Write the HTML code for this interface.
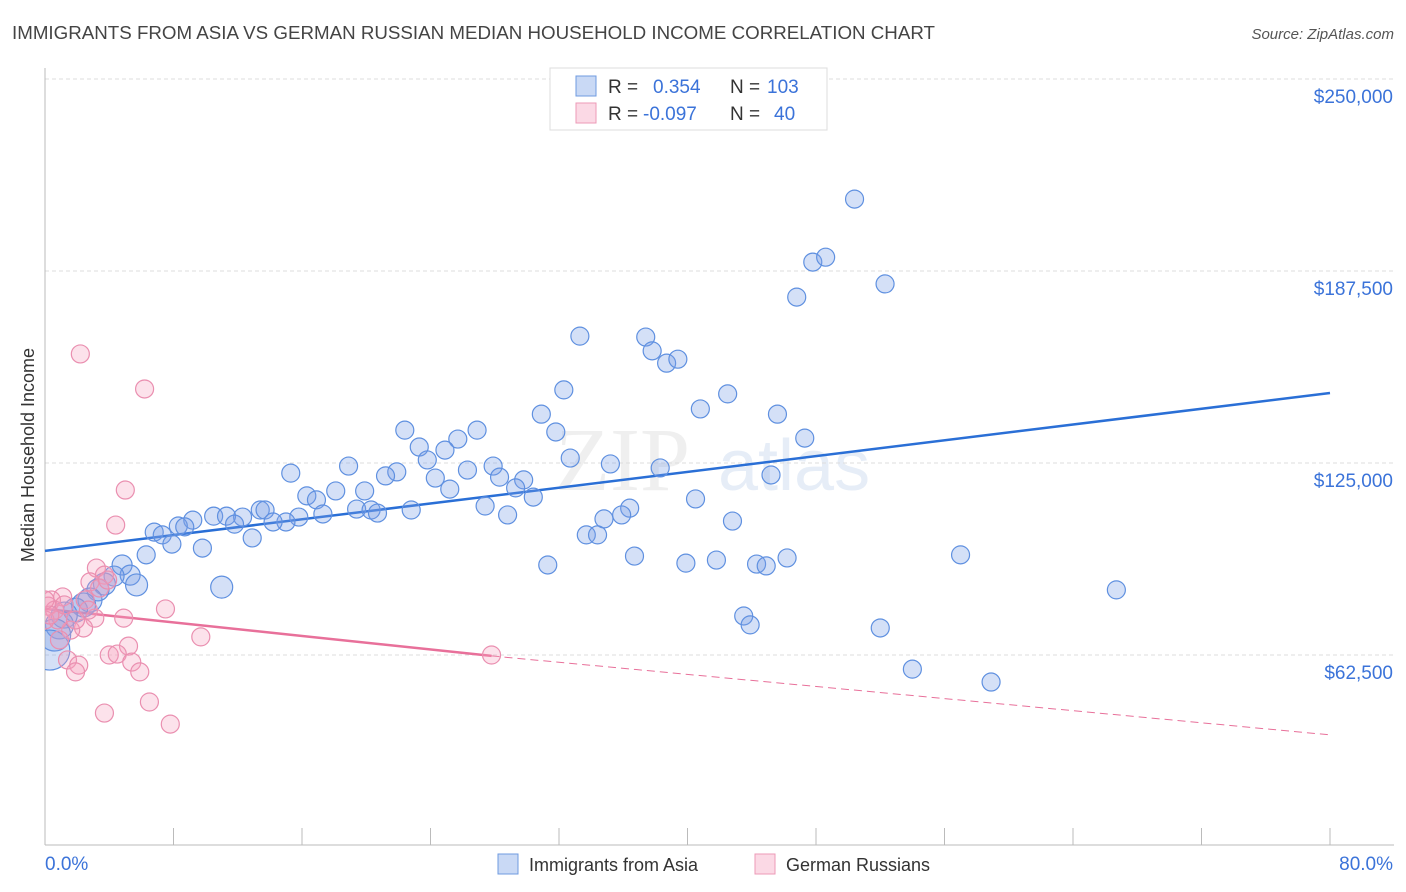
<!DOCTYPE html>
<html><head><meta charset="utf-8"><style>
body{margin:0;background:#fff;font-family:"Liberation Sans",sans-serif;}
svg{display:block}
</style></head><body>
<svg id="chart" width="1406" height="892" viewBox="0 0 1406 892">
<defs><clipPath id="plotclip"><rect x="45" y="60" width="1361" height="785"/></clipPath></defs>
<text x="12" y="39" font-size="18" fill="#444" textLength="923" lengthAdjust="spacingAndGlyphs">IMMIGRANTS FROM ASIA VS GERMAN RUSSIAN MEDIAN HOUSEHOLD INCOME CORRELATION CHART</text>
<text x="1394" y="39" font-size="15" fill="#555" font-style="italic" text-anchor="end">Source: ZipAtlas.com</text>
<text transform="translate(34,455) rotate(-90)" font-size="18" fill="#333" text-anchor="middle">Median Household Income</text>
<g><text x="555" y="490" font-size="90" fill="#ddd" font-family="Liberation Serif,serif" opacity="0.45">ZIP</text><text x="718" y="490" font-size="72" fill="#c8d8ee" opacity="0.45">atlas</text></g>
<g id="grid"></g><g id="axes"></g><g id="trends"></g><g id="pts" clip-path="url(#plotclip)"></g>
<g>
<rect x="550" y="68" width="277" height="62" fill="#fff" stroke="#ddd"/>
<rect x="576" y="76" width="20" height="20" fill="rgba(120,160,230,0.4)" stroke="#6f9be0"/>
<text x="608" y="93" font-size="19" fill="#333">R =</text><text x="653" y="93" font-size="19" fill="#3b73d9">0.354</text>
<text x="730" y="93" font-size="19" fill="#333">N =</text><text x="767" y="93" font-size="19" fill="#3b73d9">103</text>
<rect x="576" y="103" width="20" height="20" fill="rgba(245,160,190,0.4)" stroke="#ec9ab7"/>
<text x="608" y="120" font-size="19" fill="#333">R =</text><text x="643" y="120" font-size="19" fill="#3b73d9">-0.097</text>
<text x="730" y="120" font-size="19" fill="#333">N =</text><text x="774" y="120" font-size="19" fill="#3b73d9">40</text>
</g>
<g>
<rect x="498" y="854" width="20" height="20" fill="rgba(120,160,230,0.4)" stroke="#6f9be0"/>
<text x="529" y="871" font-size="18" fill="#333">Immigrants from Asia</text>
<rect x="755" y="854" width="20" height="20" fill="rgba(245,160,190,0.4)" stroke="#ec9ab7"/>
<text x="786" y="871" font-size="18" fill="#333">German Russians</text>
</g>
</svg>
<script>
const yTicks=[62.5,125,187.5,250];
const yTickLabels=["$62,500","$125,000","$187,500","$250,000"];
const xTickVals=[0,8,16,24,32,40,48,56,64,72,80];
const blueX=[50.4,47.8,48.6,52.3,46.8,33.3,37.4,37.8,38.7,39.4,32.3,42.5,40.8,45.6,30.9,22.4,26.9,31.8,47.3,25.7,23.3,24.9,23.8,32.7,38.3,35.2,26.3,27.9,18.9,15.3,21.9,21.2,24.3,28.3,29.8,29.3,25.2,18.1,16.3,16.9,19.9,27.4,30.4,40.5,36.4,35.9,34.8,28.8,22.8,19.4,20.3,20.7,17.3,13.4,13.7,15.8,12.3,10.5,11.3,9.2,15.0,14.2,11.8,8.3,8.7,42.8,6.8,7.3,12.9,7.9,9.8,6.3,33.7,34.4,45.2,57.0,36.7,39.9,41.8,31.3,44.3,44.9,46.2,4.8,5.3,4.3,5.7,11.0,3.7,3.3,2.8,2.4,1.9,1.2,0.9,0.6,0.3,43.5,43.9,52.0,54.0,58.9,66.7];
const blueY=[210.9,190.4,192.0,183.3,179.0,166.3,166.0,161.5,157.5,158.8,148.8,147.5,142.6,140.9,140.9,135.7,135.7,135.1,133.1,132.8,130.2,129.2,126.0,126.6,123.4,124.7,122.7,124.0,124.0,121.7,122.1,120.8,120.1,120.4,119.5,116.9,116.5,115.9,114.3,113.0,115.9,111.0,113.9,113.3,110.3,108.1,106.8,108.1,109.7,110.0,109.7,108.7,108.4,109.7,109.7,107.4,107.4,107.7,107.7,106.4,105.8,105.8,105.1,104.5,104.2,106.1,102.5,101.6,100.6,98.6,97.3,95.1,101.6,101.6,121.1,95.1,94.7,92.4,93.4,91.8,92.1,91.5,94.1,91.8,88.5,88.2,85.3,84.6,85.6,83.7,80.4,78.8,77.1,75.5,72.3,69.0,64.1,75.2,72.3,71.3,57.9,53.7,83.7];
const blueR=[9,9,9,9,9,9,9,9,9,9,9,9,9,9,9,9,9,9,9,9,9,9,9,9,9,9,9,9,9,9,9,9,9,9,9,9,9,9,9,9,9,9,9,9,9,9,9,9,9,9,9,9,9,9,9,9,9,9,9,9,9,9,9,9,9,9,9,9,9,9,9,9,9,9,9,9,9,9,9,9,9,9,9,10,10,10,11,11,11,11,12,12,12,13,14,16,20,9,9,9,9,9,9];
const pinkX=[2.2,6.2,5.0,4.4,3.2,3.7,2.8,1.1,0.4,0.2,0.6,7.5,4.9,3.1,2.4,1.6,0.8,0.0,5.2,9.7,4.0,4.5,5.4,5.9,1.4,2.1,1.9,27.8,6.5,3.7,7.8,2.5,3.4,0.9,0.3,2.7,3.9,0.0,1.9,1.2];
const pinkY=[160.5,149.1,116.2,104.8,90.8,88.5,86.3,81.4,80.4,78.4,77.1,77.5,74.5,74.5,71.3,70.6,73.9,73.9,65.4,68.4,62.5,62.8,60.2,57.0,60.9,59.2,57.0,62.5,47.2,43.6,40.0,80.4,84.3,67.4,75.5,77.1,86.9,80.4,73.9,78.8];
const blueTrend=[96.4,147.8];
const pinkTrend=[77.5,62.2,36.5];
const pinkSolidEnd=27.8;

const NS="http://www.w3.org/2000/svg";
const X=p=>45+p*(1285/80);
const Y=v=>655-(v-62.5)*192/62.5;
function mk(tag,attrs,parent){const e=document.createElementNS(NS,tag);for(const k in attrs)e.setAttribute(k,attrs[k]);parent.appendChild(e);return e;}
const grid=document.getElementById('grid'),axes=document.getElementById('axes'),tr=document.getElementById('trends'),pts=document.getElementById('pts');
yTicks.forEach((v,i)=>{
 const l=mk('line',{x1:45,x2:1394,y1:Y(v),y2:Y(v),stroke:'#ddd','stroke-dasharray':'4,3'},grid);
 
 
 const t=mk('text',{x:1393,y:Y(v)+24,'font-size':19,fill:'#3b73d9','text-anchor':'end'},axes);
 t.textContent=yTickLabels[i];
 
 
});
const ax=mk('line',{x1:45,x2:45,y1:68,y2:845,stroke:'#bbb'},axes);


const bx=mk('line',{x1:45,x2:1394,y1:845,y2:845,stroke:'#bbb'},axes);


xTickVals.forEach(v=>{const t=mk('line',{x1:X(v),x2:X(v),y1:828,y2:845,stroke:'#bbb'},axes);
 
 });
const xl0=mk('text',{x:45,y:870,'font-size':19,fill:'#3b73d9'},axes);xl0.textContent=xTickVals[0].toFixed(1)+'%';


const xl1=mk('text',{x:1393,y:870,'font-size':19,fill:'#3b73d9','text-anchor':'end'},axes);xl1.textContent=xTickVals[xTickVals.length-1].toFixed(1)+'%';



blueX.forEach((p,i)=>{const c=mk('circle',{cx:X(p),cy:Y(blueY[i]),r:blueR[i],fill:'rgba(120,160,230,0.32)',stroke:'#5f90e0','stroke-width':1.2},pts);
 
 });
pinkX.forEach((p,i)=>{const c=mk('circle',{cx:X(p),cy:Y(pinkY[i]),r:9,fill:'rgba(245,160,190,0.3)',stroke:'#ea8fb0','stroke-width':1.2},pts);
 
 });
const bl=mk('line',{x1:X(0),y1:Y(blueTrend[0]),x2:X(80),y2:Y(blueTrend[1]),stroke:'#2a6fd6','stroke-width':2.5},tr);


const pl=mk('line',{x1:X(0),y1:Y(pinkTrend[0]),x2:X(pinkSolidEnd),y2:Y(pinkTrend[1]),stroke:'#e8709a','stroke-width':2.5},tr);


const pd=mk('line',{x1:X(pinkSolidEnd),y1:Y(pinkTrend[1]),x2:X(80),y2:Y(pinkTrend[2]),stroke:'#e8709a','stroke-width':1,'stroke-dasharray':'8,5'},tr);


</script>
</body></html>
